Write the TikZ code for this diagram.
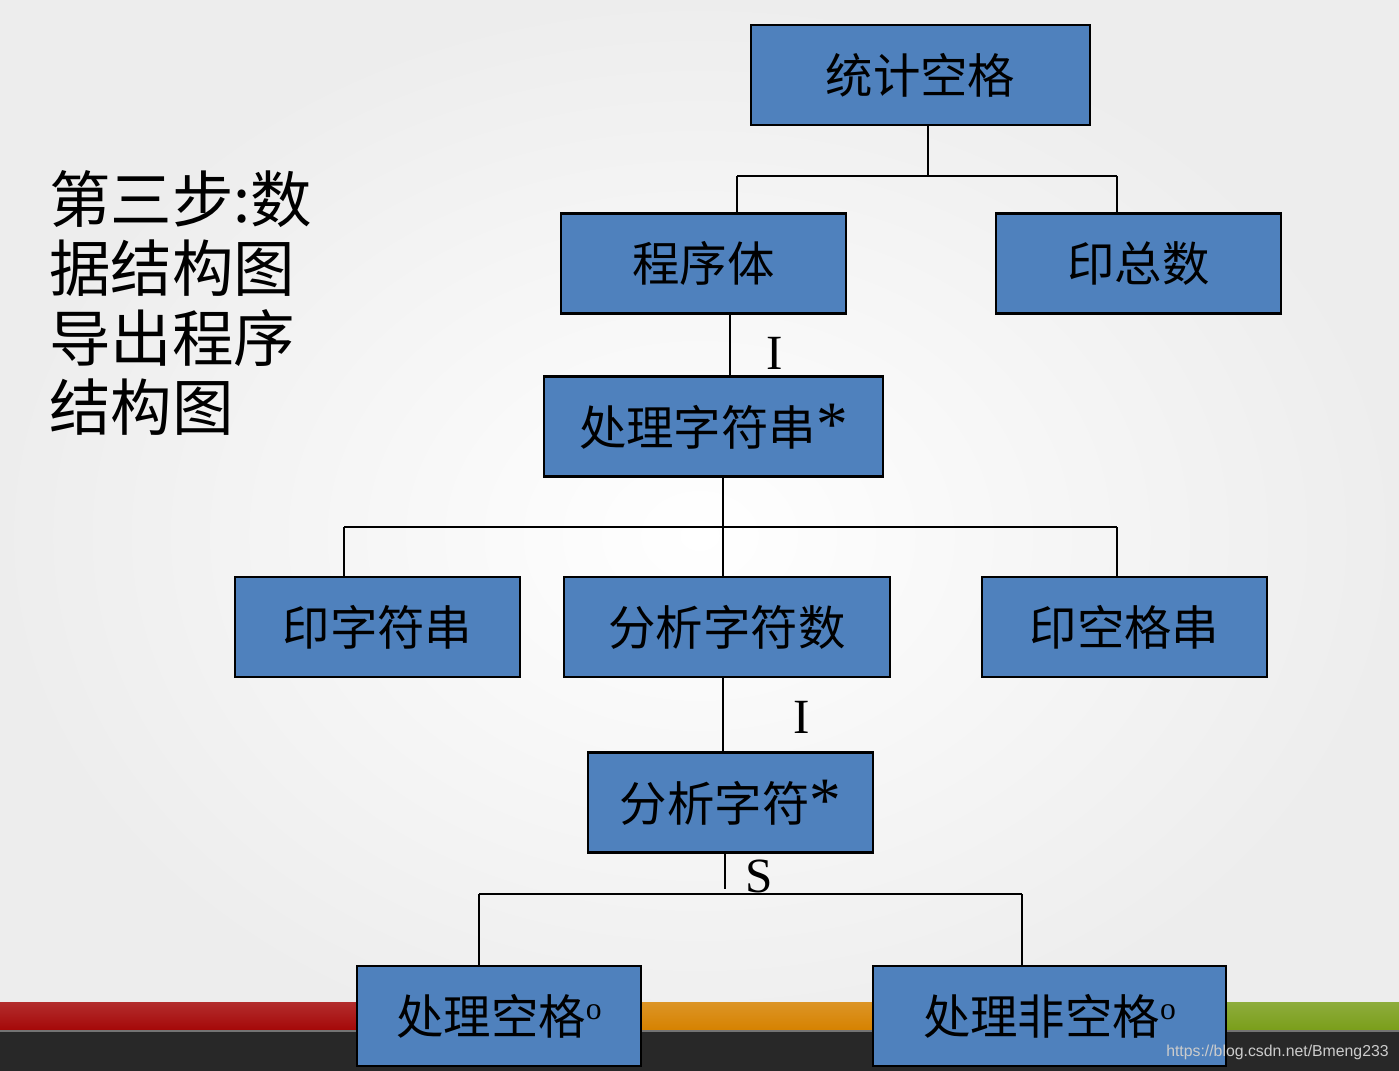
\documentclass[tikz,border=0pt]{standalone}
\usepackage{fontspec}
\setmainfont{Liberation Serif}
\newfontfamily\cjk{Noto Sans CJK SC}
\usepackage{tikz}
\usetikzlibrary{positioning, calc}
\definecolor{boxblue}{RGB}{79,129,189}
\definecolor{barred}{RGB}{165,8,8}
\definecolor{barorange}{RGB}{214,130,0}
\definecolor{bargreen}{RGB}{122,158,26}
\definecolor{bardark}{RGB}{40,40,40}
\tikzset{
    jspbox/.style={rectangle, draw=black, fill=boxblue, line width=1.4pt, minimum width=#1, minimum height=2cm, inner sep=0pt, font=\cjk\fontsize{27}{30}\selectfont},
    jsplink/.style={draw=black, line width=1.1pt},
    jsptag/.style={font=\fontsize{28}{30}\selectfont, inner sep=0pt}
}
\newcommand{\jspcirc}{\raisebox{0.55ex}{\rmfamily\fontsize{18}{18}\selectfont o}}
\newcommand{\jspstar}{{\rmfamily\fontsize{36}{36}\selectfont *}}

\begin{document}
\begin{tikzpicture}[x=0.02cm, y=-0.02cm,
    stripe/.style={top color=#1!85!white, bottom color=#1}
]
\useasboundingbox (0,0) rectangle (1399,1071);

% slide background
\shade[inner color=white, outer color=black!7] (0,0) rectangle (1399,1071);
\shade[stripe=barred] (0,1002) rectangle (520,1030);
\shade[stripe=barorange] (520,1002) rectangle (1050,1030);
\shade[stripe=bargreen] (1050,1002) rectangle (1399,1030);
\fill[bardark] (0,1030) rectangle (1399,1071);
\draw[black!55, line width=1pt] (0,1031) -- (1399,1031);

\node[anchor=north west, align=left, inner sep=0pt, font=\cjk\fontsize{35}{39.5}\selectfont] (step) at (49,170) {第三步:数\\据结构图\\导出程序\\结构图};

\node[jspbox=6.78cm] (root) at (920.5,75) {统计空格};
\node[jspbox=5.7cm] (body) at (703.5,263.5) {程序体};
\node[jspbox=5.7cm] (total) at (1138.5,263.5) {印总数};
\node[jspbox=6.78cm] (procstr) at (713.5,426.5) {处理字符串\jspstar};
\node[jspbox=5.7cm] (printstr) at (377.5,627) {印字符串};
\node[jspbox=6.52cm] (anastr) at (727,627) {分析字符数};
\node[jspbox=5.7cm] (printsp) at (1124.5,627) {印空格串};
\node[jspbox=5.7cm] (anach) at (730.5,802.5) {分析字符\jspstar};
\node[jspbox=5.68cm] (procsp) at (499,1016) {处理空格\jspcirc};
\node[jspbox=7.06cm] (procnsp) at (1049.5,1016) {处理非空格\jspcirc};

\coordinate (j1) at (928,176);
\coordinate (j1l) at (737,176);
\coordinate (j1r) at (1117,176);
\draw[jsplink] (root.south -| j1) -- (j1);
\draw[jsplink] (j1l) -- (j1r);
\draw[jsplink] (j1l) -- (j1l |- body.north);
\draw[jsplink] (j1r) -- (j1r |- total.north);

\coordinate (c1) at (730,345);
\draw[jsplink] (body.south -| c1) -- (c1 |- procstr.north);
\node[jsptag] (iter1) at (775,353) {I};

\coordinate (j2) at (723,527);
\coordinate (j2l) at (344,527);
\coordinate (j2r) at (1117,527);
\draw[jsplink] (procstr.south -| j2) -- (j2 |- anastr.north);
\draw[jsplink] (j2l) -- (j2r);
\draw[jsplink] (j2l) -- (j2l |- printstr.north);
\draw[jsplink] (j2r) -- (j2r |- printsp.north);

\coordinate (c2) at (723,715);
\draw[jsplink] (anastr.south -| c2) -- (c2 |- anach.north);
\node[jsptag] (iter2) at (802,717) {I};

\coordinate (c3) at (725,889);
\coordinate (j3l) at (479,894);
\coordinate (j3r) at (1022,894);
\draw[jsplink] (anach.south -| c3) -- (c3);
\draw[jsplink] (j3l) -- (j3r);
\draw[jsplink] (j3l) -- (j3l |- procsp.north);
\draw[jsplink] (j3r) -- (j3r |- procnsp.north);
\node[jsptag] (sel) at (759,876) {S};

\node[anchor=east, inner sep=0pt, text=white!80!black, font=\fontspec{Liberation Sans}\fontsize{9}{10}\selectfont] (mark) at (1389,1052) {https://blog.csdn.net/Bmeng233};
\end{tikzpicture}
\end{document}
